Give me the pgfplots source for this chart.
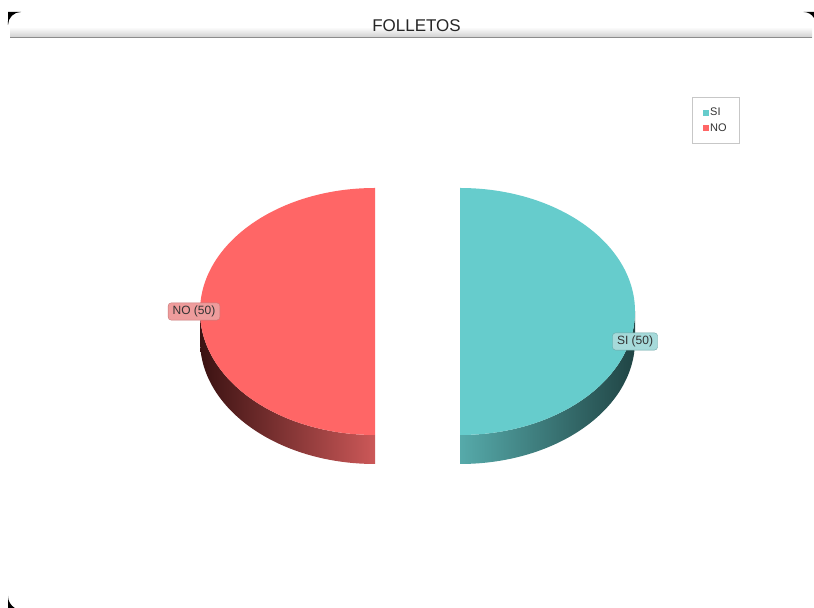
\documentclass[border=0pt]{standalone}
\usepackage{pgfplots}
\pgfplotsset{compat=1.18}
\usepackage{pgfplotstable}
\usepackage{fontspec}
\setmainfont{Liberation Sans}

\definecolor{siC}{HTML}{66CCCC}
\definecolor{noC}{HTML}{FF6666}
\definecolor{siSideL}{HTML}{56AAAA}
\definecolor{siSideR}{HTML}{204444}
\definecolor{noSideL}{HTML}{3A1212}
\definecolor{noSideR}{HTML}{CC5858}
\definecolor{noLab}{HTML}{EE9C9C}
\definecolor{noLabB}{HTML}{C87878}
\definecolor{siLab}{HTML}{A6DADA}
\definecolor{siLabB}{HTML}{6AA6A6}

\pgfplotstableread{
label value
SI 50
NO 50
}\piedata

\pgfplotstablegetelem{0}{value}\of\piedata \let\vSI\pgfplotsretval
\pgfplotstablegetelem{1}{value}\of\piedata \let\vNO\pgfplotsretval

% pie geometry (pixel units, y measured upwards)
\def\cx{417.5}
\def\cy{296.5}
\def\rx{175}
\def\ry{123.5}
\def\dep{29}
\def\ex{42.5}
\pgfmathsetmacro{\tot}{\vSI+\vNO}
\pgfmathsetmacro{\fS}{\vSI/\tot}
\pgfmathsetmacro{\fN}{\vNO/\tot}
\pgfmathsetmacro{\aA}{90}
\pgfmathsetmacro{\aB}{90-360*\fS}
\pgfmathsetmacro{\aC}{\aB-360*\fN}
\pgfmathsetmacro{\mS}{(\aA+\aB)/2}
\pgfmathsetmacro{\mN}{(\aB+\aC)/2}
\pgfmathsetmacro{\sx}{\cx+\ex*cos(\mS)}
\pgfmathsetmacro{\sy}{\cy+\ex*sin(\mS)*\ry/\rx}
\pgfmathsetmacro{\nx}{\cx+\ex*cos(\mN)}
\pgfmathsetmacro{\ny}{\cy+\ex*sin(\mN)*\ry/\rx}

\begin{document}
\begin{tikzpicture}
\begin{axis}[
  x=1bp, y=1bp, scale only axis,
  xmin=0, xmax=814, ymin=0, ymax=608,
  hide axis, clip=false,
  legend image code/.code={\fill[#1, draw=none] (0bp,-3bp) rectangle (6bp,3bp);},
  legend style={at={(axis cs:692,511)}, anchor=north west,
    draw=black!22, fill=white, inner xsep=10.5bp, inner ysep=9.5bp,
    font=\fontsize{11bp}{12bp}\selectfont, row sep=3bp,
    nodes={inner sep=1.5bp, text=black!80}},
  legend cell align=left,
]
% background
\fill[white] (axis cs:0,0) rectangle (axis cs:814,608);
% title band
\shade[top color=white, bottom color=black!20] (axis cs:10,581) rectangle (axis cs:812,570);
\draw[black!45, line width=1bp] (axis cs:10,570) -- (axis cs:812,570);
% black panel corners
\fill[black] (axis cs:8,596) -- (axis cs:21,596) arc[start angle=90, end angle=180, radius=13bp] -- cycle;
\fill[black] (axis cs:8,0) -- (axis cs:8,12) arc[start angle=180, end angle=239, radius=14bp] -- cycle;
\fill[black] (axis cs:804,596) -- (axis cs:814,596) -- (axis cs:814,590) arc[start angle=30, end angle=90, radius=12bp] -- cycle;
\node[font=\fontsize{17bp}{20bp}\selectfont, text=black!85] at (axis cs:416.5,582) {FOLLETOS};

% sides (front visible parts)
\shade[left color=siSideL, right color=siSideR]
  (axis cs:\sx,\sy) ++(\aB:\rx bp and \ry bp)
  arc[start angle=\aB, end angle=0, x radius=\rx bp, y radius=\ry bp]
  -- ++(0,-\dep bp)
  arc[start angle=0, end angle=\aB, x radius=\rx bp, y radius=\ry bp] -- cycle;
\shade[left color=noSideL, right color=noSideR]
  (axis cs:\nx,\ny) ++(-180:\rx bp and \ry bp)
  arc[start angle=-180, end angle=\aB, x radius=\rx bp, y radius=\ry bp]
  -- ++(0,-\dep bp)
  arc[start angle=\aB, end angle=-180, x radius=\rx bp, y radius=\ry bp] -- cycle;
% top faces
\fill[siC] (axis cs:\sx,\sy) -- ++(\aA:\rx bp and \ry bp)
  arc[start angle=\aA, end angle=\aB, x radius=\rx bp, y radius=\ry bp] -- cycle;
\fill[noC] (axis cs:\nx,\ny) -- ++(\aB:\rx bp and \ry bp)
  arc[start angle=\aB, end angle=\aC, x radius=\rx bp, y radius=\ry bp] -- cycle;

% labels
\node[draw=noLabB, fill=noLab, rounded corners=3bp, inner xsep=4.5bp, inner ysep=3bp,
  font=\fontsize{12bp}{13bp}\selectfont, text=black!80]
  at (axis cs:{\nx-\rx-6},\ny) {NO (\vNO)};
\node[draw=siLabB, fill=siLab, rounded corners=3bp, inner xsep=4.5bp, inner ysep=3bp,
  font=\fontsize{12bp}{13bp}\selectfont, text=black!80]
  at (axis cs:{\sx+\rx},{\sy-30}) {SI (\vSI)};

\addlegendimage{fill=siC}
\addlegendentry{SI}
\addlegendimage{fill=noC}
\addlegendentry{NO}
\end{axis}
\end{tikzpicture}
\end{document}
